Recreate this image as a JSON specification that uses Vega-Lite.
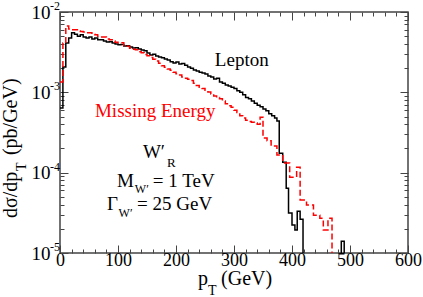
{
  "$schema": "https://vega.github.io/schema/vega-lite/v6.json",
  "width": 348,
  "height": 241,
  "autosize": {"type": "none"},
  "padding": {"left": 60, "top": 12, "right": 15, "bottom": 44},
  "background": "white",
  "config": {
    "view": {"stroke": "#444", "strokeWidth": 1.5},
    "axis": {"labelFont": "Liberation Serif", "labelFontSize": 18, "labelColor": "black", "domain": false, "grid": false, "tickColor": "#444", "tickWidth": 1, "title": null, "labelFlush": false, "labelOverlap": false},
    "text": {"font": "Liberation Serif", "fontSize": 19, "align": "left", "baseline": "alphabetic", "color": "black"}
  },
  "datasets": {
    "lepton": [
      {"pt": 0, "v": 6.4e-4}, {"pt": 5, "v": 2.06e-3}, {"pt": 10, "v": 4.1e-3}, {"pt": 15, "v": 4.74e-3}, {"pt": 20, "v": 5.5e-3},
      {"pt": 25, "v": 5.3e-3}, {"pt": 30, "v": 5.0e-3}, {"pt": 35, "v": 5.2e-3}, {"pt": 40, "v": 4.9e-3}, {"pt": 45, "v": 4.75e-3},
      {"pt": 50, "v": 4.9e-3}, {"pt": 55, "v": 4.6e-3}, {"pt": 60, "v": 4.75e-3}, {"pt": 65, "v": 4.5e-3}, {"pt": 70, "v": 4.5e-3},
      {"pt": 75, "v": 4.35e-3}, {"pt": 80, "v": 4.22e-3}, {"pt": 85, "v": 4.25e-3}, {"pt": 90, "v": 4.1e-3}, {"pt": 95, "v": 4.0e-3},
      {"pt": 100, "v": 3.9e-3}, {"pt": 105, "v": 3.95e-3}, {"pt": 110, "v": 3.77e-3}, {"pt": 115, "v": 3.8e-3}, {"pt": 120, "v": 3.67e-3},
      {"pt": 125, "v": 3.56e-3}, {"pt": 130, "v": 3.6e-3}, {"pt": 135, "v": 3.46e-3}, {"pt": 140, "v": 3.37e-3}, {"pt": 145, "v": 3.3e-3},
      {"pt": 150, "v": 3.08e-3}, {"pt": 155, "v": 2.92e-3}, {"pt": 160, "v": 2.98e-3}, {"pt": 165, "v": 2.84e-3}, {"pt": 170, "v": 2.75e-3},
      {"pt": 175, "v": 2.7e-3}, {"pt": 180, "v": 2.6e-3}, {"pt": 185, "v": 2.53e-3}, {"pt": 190, "v": 2.4e-3}, {"pt": 195, "v": 2.32e-3},
      {"pt": 200, "v": 2.38e-3}, {"pt": 205, "v": 2.25e-3}, {"pt": 210, "v": 2.28e-3}, {"pt": 215, "v": 2.18e-3}, {"pt": 220, "v": 2.06e-3},
      {"pt": 225, "v": 2.0e-3}, {"pt": 230, "v": 1.9e-3}, {"pt": 235, "v": 1.84e-3}, {"pt": 240, "v": 1.78e-3}, {"pt": 245, "v": 1.74e-3},
      {"pt": 250, "v": 1.69e-3}, {"pt": 255, "v": 1.6e-3}, {"pt": 260, "v": 1.55e-3}, {"pt": 265, "v": 1.47e-3}, {"pt": 270, "v": 1.5e-3},
      {"pt": 275, "v": 1.34e-3}, {"pt": 280, "v": 1.3e-3}, {"pt": 285, "v": 1.23e-3}, {"pt": 290, "v": 1.2e-3}, {"pt": 295, "v": 1.16e-3},
      {"pt": 300, "v": 1.12e-3}, {"pt": 305, "v": 1.05e-3}, {"pt": 310, "v": 1.0e-3}, {"pt": 315, "v": 9.3e-4}, {"pt": 320, "v": 8.6e-4},
      {"pt": 325, "v": 8.3e-4}, {"pt": 330, "v": 7.8e-4}, {"pt": 335, "v": 7.3e-4}, {"pt": 340, "v": 6.9e-4}, {"pt": 345, "v": 6.6e-4},
      {"pt": 350, "v": 6.2e-4}, {"pt": 355, "v": 5.9e-4}, {"pt": 360, "v": 5.4e-4}, {"pt": 365, "v": 5.1e-4}, {"pt": 370, "v": 4.8e-4},
      {"pt": 374, "v": 4.4e-4}, {"pt": 378, "v": 1.75e-4}, {"pt": 384, "v": 1.35e-4}, {"pt": 390, "v": 6.4e-5}, {"pt": 394, "v": 3.14e-5},
      {"pt": 400, "v": 2.23e-5}, {"pt": 405, "v": 1.93e-5}, {"pt": 409, "v": 3.3e-5}, {"pt": 414, "v": 2.64e-5}, {"pt": 419, "v": 1e-7},
      {"pt": 485, "v": 1.4e-5}, {"pt": 490, "v": 1e-7}, {"pt": 600, "v": 1e-7}
    ],
    "missing": [
      {"pt": 0, "v": 1.34e-3}, {"pt": 5, "v": 4.1e-3}, {"pt": 10, "v": 6.7e-3}, {"pt": 15, "v": 6.15e-3}, {"pt": 20, "v": 6.0e-3},
      {"pt": 25, "v": 6.0e-3}, {"pt": 30, "v": 5.8e-3}, {"pt": 35, "v": 5.7e-3}, {"pt": 40, "v": 5.65e-3}, {"pt": 45, "v": 5.5e-3},
      {"pt": 50, "v": 5.5e-3}, {"pt": 55, "v": 5.3e-3}, {"pt": 60, "v": 5.2e-3}, {"pt": 65, "v": 5.0e-3}, {"pt": 70, "v": 4.9e-3},
      {"pt": 75, "v": 4.9e-3}, {"pt": 80, "v": 4.6e-3}, {"pt": 85, "v": 4.5e-3}, {"pt": 90, "v": 4.35e-3}, {"pt": 95, "v": 4.2e-3},
      {"pt": 100, "v": 4.1e-3}, {"pt": 105, "v": 4.15e-3}, {"pt": 110, "v": 3.8e-3}, {"pt": 115, "v": 3.75e-3}, {"pt": 120, "v": 3.55e-3},
      {"pt": 125, "v": 3.45e-3}, {"pt": 130, "v": 3.4e-3}, {"pt": 135, "v": 3.2e-3}, {"pt": 140, "v": 3.1e-3}, {"pt": 145, "v": 2.95e-3},
      {"pt": 150, "v": 2.85e-3}, {"pt": 155, "v": 2.72e-3}, {"pt": 160, "v": 2.58e-3}, {"pt": 165, "v": 2.45e-3}, {"pt": 170, "v": 2.3e-3},
      {"pt": 175, "v": 2.15e-3}, {"pt": 180, "v": 2.05e-3}, {"pt": 185, "v": 1.95e-3}, {"pt": 190, "v": 1.88e-3}, {"pt": 195, "v": 1.78e-3},
      {"pt": 200, "v": 1.7e-3}, {"pt": 205, "v": 1.64e-3}, {"pt": 210, "v": 1.55e-3}, {"pt": 215, "v": 1.5e-3}, {"pt": 220, "v": 1.45e-3},
      {"pt": 225, "v": 1.4e-3}, {"pt": 230, "v": 1.3e-3}, {"pt": 235, "v": 1.22e-3}, {"pt": 240, "v": 1.16e-3}, {"pt": 245, "v": 1.12e-3},
      {"pt": 250, "v": 1.06e-3}, {"pt": 255, "v": 1.01e-3}, {"pt": 260, "v": 9.5e-4}, {"pt": 265, "v": 9.0e-4}, {"pt": 270, "v": 8.6e-4},
      {"pt": 275, "v": 8.3e-4}, {"pt": 280, "v": 7.8e-4}, {"pt": 285, "v": 7.2e-4}, {"pt": 290, "v": 6.8e-4}, {"pt": 295, "v": 6.5e-4},
      {"pt": 300, "v": 6.0e-4}, {"pt": 305, "v": 5.6e-4}, {"pt": 310, "v": 5.1e-4}, {"pt": 315, "v": 4.8e-4}, {"pt": 320, "v": 4.5e-4},
      {"pt": 325, "v": 4.35e-4}, {"pt": 330, "v": 4.25e-4}, {"pt": 335, "v": 4.15e-4}, {"pt": 340, "v": 4.0e-4}, {"pt": 345, "v": 4.9e-4},
      {"pt": 350, "v": 2.7e-4}, {"pt": 357, "v": 2.5e-4}, {"pt": 364, "v": 2.15e-4}, {"pt": 374, "v": 1.66e-4}, {"pt": 384, "v": 1.32e-4},
      {"pt": 396, "v": 8.8e-5}, {"pt": 408, "v": 1.17e-4}, {"pt": 414, "v": 4.57e-5}, {"pt": 425, "v": 3.96e-5}, {"pt": 437, "v": 2.96e-5},
      {"pt": 448, "v": 2.7e-5}, {"pt": 454, "v": 1.93e-5}, {"pt": 462, "v": 2.7e-5}, {"pt": 469, "v": 1e-7}, {"pt": 600, "v": 1e-7}
    ],
    "expo": [{"v": 0.01, "e": "-2"}, {"v": 0.001, "e": "-3"}, {"v": 0.0001, "e": "-4"}, {"v": 0.00001, "e": "-5"}]
  },
  "layer": [
    {
      "data": {"name": "lepton"},
      "mark": {"type": "line", "interpolate": "step-after", "color": "black", "strokeWidth": 1.5, "clip": true},
      "encoding": {
        "x": {"field": "pt", "type": "quantitative", "scale": {"domain": [0, 600], "nice": false},
          "axis": {"orient": "bottom", "values": [0,20,40,60,80,100,120,140,160,180,200,220,240,260,280,300,320,340,360,380,400,420,440,460,480,500,520,540,560,580,600],
            "labelExpr": "datum.value % 100 === 0 ? datum.label : ''",
            "tickSize": {"condition": {"test": "datum.value % 100 === 0", "value": -8}, "value": -4},
            "labelPadding": 6}},
        "y": {"field": "v", "type": "quantitative", "scale": {"type": "log", "domain": [0.00001, 0.01], "nice": false},
          "axis": {"orient": "left", "values": [0.00001,0.00002,0.00003,0.00004,0.00005,0.00006,0.00007,0.00008,0.00009,0.0001,0.0002,0.0003,0.0004,0.0005,0.0006,0.0007,0.0008,0.0009,0.001,0.002,0.003,0.004,0.005,0.006,0.007,0.008,0.009,0.01],
            "labelExpr": "abs(log(datum.value)/LN10 - round(log(datum.value)/LN10)) < 0.000001 ? '10' : ''",
            "tickSize": {"condition": {"test": "abs(log(datum.value)/LN10 - round(log(datum.value)/LN10)) < 0.000001", "value": -8}, "value": -4},
            "labelPadding": 18, "labelBaseline": "middle", "labelFontSize": 19}}
      }
    },
    {
      "data": {"name": "missing"},
      "mark": {"type": "line", "interpolate": "step-after", "color": "#ff0000", "strokeWidth": 1.5, "strokeDash": [6, 3], "clip": true},
      "encoding": {
        "x": {"field": "pt", "type": "quantitative",
          "axis": {"orient": "top", "labels": false, "values": [0,20,40,60,80,100,120,140,160,180,200,220,240,260,280,300,320,340,360,380,400,420,440,460,480,500,520,540,560,580,600],
            "tickSize": {"condition": {"test": "datum.value % 100 === 0", "value": -8}, "value": -4}}},
        "y": {"field": "v", "type": "quantitative",
          "axis": {"orient": "right", "labels": false, "values": [0.00001,0.00002,0.00003,0.00004,0.00005,0.00006,0.00007,0.00008,0.00009,0.0001,0.0002,0.0003,0.0004,0.0005,0.0006,0.0007,0.0008,0.0009,0.001,0.002,0.003,0.004,0.005,0.006,0.007,0.008,0.009,0.01],
            "tickSize": {"condition": {"test": "abs(log(datum.value)/LN10 - round(log(datum.value)/LN10)) < 0.000001", "value": -8}, "value": -4}}}
      }
    },
    {
      "data": {"name": "expo"},
      "mark": {"type": "text", "fontSize": 12, "dx": -10, "dy": -2},
      "encoding": {"x": {"datum": 0, "axis": null}, "y": {"field": "v", "type": "quantitative", "axis": null}, "text": {"field": "e"}}
    },
    {"data": {"values": [{"t": "Lepton"}]}, "mark": {"type": "text"}, "encoding": {"x": {"datum": 267, "axis": null}, "y": {"datum": 0.002125, "axis": null}, "text": {"field": "t"}}},
    {"data": {"values": [{"t": "Missing Energy"}]}, "mark": {"type": "text", "color": "#ff0000"}, "encoding": {"x": {"datum": 60.3, "axis": null}, "y": {"datum": 0.000493, "axis": null}, "text": {"field": "t"}}},
    {"data": {"values": [{"t": "W′"}]}, "mark": {"type": "text"}, "encoding": {"x": {"datum": 143, "axis": null}, "y": {"datum": 0.000152, "axis": null}, "text": {"field": "t"}}},
    {"data": {"values": [{"t": "R"}]}, "mark": {"type": "text", "fontSize": 13}, "encoding": {"x": {"datum": 184.5, "axis": null}, "y": {"datum": 0.0001175, "axis": null}, "text": {"field": "t"}}},
    {"data": {"values": [{"t": "M"}]}, "mark": {"type": "text"}, "encoding": {"x": {"datum": 98.3, "axis": null}, "y": {"datum": 0.0000662, "axis": null}, "text": {"field": "t"}}},
    {"data": {"values": [{"t": "W′"}]}, "mark": {"type": "text", "fontSize": 12}, "encoding": {"x": {"datum": 129, "axis": null}, "y": {"datum": 0.0000557, "axis": null}, "text": {"field": "t"}}},
    {"data": {"values": [{"t": "= 1 TeV"}]}, "mark": {"type": "text"}, "encoding": {"x": {"datum": 160, "axis": null}, "y": {"datum": 0.0000662, "axis": null}, "text": {"field": "t"}}},
    {"data": {"values": [{"t": "Γ"}]}, "mark": {"type": "text"}, "encoding": {"x": {"datum": 81, "axis": null}, "y": {"datum": 0.0000342, "axis": null}, "text": {"field": "t"}}},
    {"data": {"values": [{"t": "W′"}]}, "mark": {"type": "text", "fontSize": 12}, "encoding": {"x": {"datum": 101, "axis": null}, "y": {"datum": 0.000028, "axis": null}, "text": {"field": "t"}}},
    {"data": {"values": [{"t": "= 25 GeV"}]}, "mark": {"type": "text"}, "encoding": {"x": {"datum": 132.8, "axis": null}, "y": {"datum": 0.0000342, "axis": null}, "text": {"field": "t"}}},
    {"data": {"values": [{"t": "p"}]}, "mark": {"type": "text", "fontSize": 20, "dy": 32}, "encoding": {"x": {"datum": 238, "axis": null}, "y": {"datum": 0.00001, "axis": null}, "text": {"field": "t"}}},
    {"data": {"values": [{"t": "T"}]}, "mark": {"type": "text", "fontSize": 14, "dx": 10, "dy": 42}, "encoding": {"x": {"datum": 238, "axis": null}, "y": {"datum": 0.00001, "axis": null}, "text": {"field": "t"}}},
    {"data": {"values": [{"t": "(GeV)"}]}, "mark": {"type": "text", "fontSize": 20, "dx": 23, "dy": 32}, "encoding": {"x": {"datum": 238, "axis": null}, "y": {"datum": 0.00001, "axis": null}, "text": {"field": "t"}}},
    {"data": {"values": [{"t": "dσ/dp"}]}, "mark": {"type": "text", "fontSize": 20, "angle": 270}, "encoding": {"x": {"datum": -74, "axis": null}, "y": {"datum": 0.0000272, "axis": null}, "text": {"field": "t"}}},
    {"data": {"values": [{"t": "T"}]}, "mark": {"type": "text", "fontSize": 14, "angle": 270, "dx": 47, "dy": 9}, "encoding": {"x": {"datum": -74, "axis": null}, "y": {"datum": 0.0000272, "axis": null}, "text": {"field": "t"}}},
    {"data": {"values": [{"t": "(pb/GeV)"}]}, "mark": {"type": "text", "fontSize": 20, "angle": 270, "dx": 63}, "encoding": {"x": {"datum": -74, "axis": null}, "y": {"datum": 0.0000272, "axis": null}, "text": {"field": "t"}}}
  ],
  "resolve": {"axis": {"x": "independent", "y": "independent"}}
}
